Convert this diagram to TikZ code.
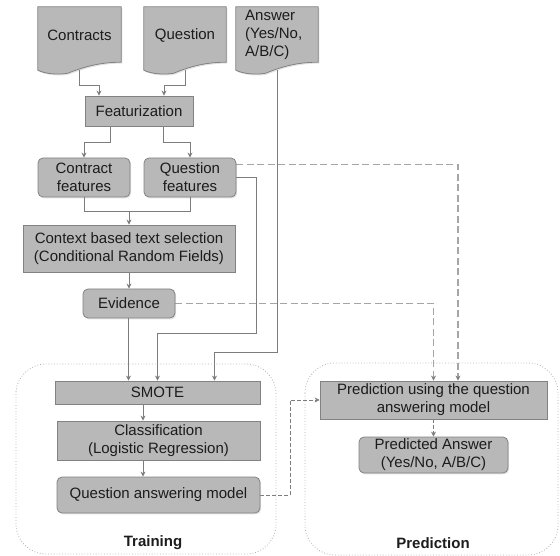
\documentclass[tikz,border=0pt]{standalone}
\usepackage{fontspec}
\setmainfont{Liberation Sans}
\usetikzlibrary{arrows.meta,shadows,calc}
\pgfdeclarelayer{background}
\pgfsetlayers{background,main}
\definecolor{boxfill}{RGB}{184,184,184}
\definecolor{boxline}{RGB}{130,130,130}
\definecolor{txt}{RGB}{28,28,28}
\definecolor{conn}{RGB}{125,125,125}
\definecolor{dconn}{RGB}{165,165,165}
\definecolor{frame}{RGB}{175,175,175}
\newcommand\docshape[1]{%
  \draw[docdraw] (#1.north west) -- (#1.north east) -- ([yshift=8pt]#1.south east)
    .. controls ([xshift=-22pt,yshift=8pt]#1.south east) and ([xshift=-38pt,yshift=3pt]#1.south east) .. ([xshift=30pt,yshift=-3pt]#1.south west)
    .. controls ([xshift=20pt,yshift=-5pt]#1.south west) and ([xshift=7pt,yshift=-3.5pt]#1.south west) .. (#1.south west) -- cycle;}
\begin{document}
\begin{tikzpicture}[x=1pt,y=-1pt,
  font=\fontsize{15}{18}\selectfont, text=txt,
  box/.style={rectangle, fill=boxfill, draw=boxline, line width=0.8pt, align=center, inner sep=0pt,
    drop shadow={opacity=0.22, shadow xshift=1.2pt, shadow yshift=-1.4pt}},
  rbox/.style={box, rounded corners=5pt},
  docnode/.style={rectangle, inner sep=0pt, align=center},
  docdraw/.style={fill=boxfill, draw=boxline, line width=0.8pt,
    drop shadow={opacity=0.22, shadow xshift=1.2pt, shadow yshift=-1.4pt}},
  arr/.style={draw=conn, line width=0.8pt, -{Stealth[length=5pt,width=5pt]}},
  ln/.style={draw=conn, line width=0.8pt},
  dsh/.style={draw=dconn, line width=1.3pt, dash pattern=on 7pt off 3.5pt, -{Stealth[length=5pt,width=5pt,color=conn]}},
  dshthin/.style={draw=conn, line width=0.7pt, dash pattern=on 4pt off 2pt, -{Stealth[length=5pt,width=5pt]}},
  container/.style={draw=frame, line width=0.8pt, dotted, rounded corners=30pt},
  lbl/.style={font=\fontsize{15}{18}\selectfont\bfseries}
]
\useasboundingbox (0,0) rectangle (560,556);

% containers
\draw[container] (16,364) rectangle (276,554);
\draw[container] (305,363) rectangle (558,555);
\node[lbl] (trainlbl) at (153,543) {Training};
\node[lbl] (predlbl) at (433,543) {Prediction};

% documents
\node[docnode, minimum width=83pt, minimum height=63pt] (contracts) at (79.5,38.5) {};
\node[docnode, minimum width=82pt, minimum height=63pt] (question) at (185,38.5) {};
\node[docnode, minimum width=82pt, minimum height=63pt] (answer) at (277,38.5) {};
\docshape{contracts}
\docshape{question}
\docshape{answer}
\node at (contracts.center) [yshift=3pt] {Contracts};
\node at (question.center) [yshift=3pt] {Question};
\node[anchor=north west, align=left, inner sep=0pt] at (245,10) {Answer\\(Yes/No,\\A/B/C)};

% boxes
\node[box, minimum width=108pt, minimum height=30pt] (feat) at (139,111) {Featurization};
\node[rbox, minimum width=92pt, minimum height=39pt] (cf) at (84,177.5) {Contract\\features};
\node[rbox, minimum width=92pt, minimum height=39pt] (qf) at (190,177.5) {Question\\features};
\node[box, minimum width=212pt, minimum height=47pt] (ctx) at (129,248.5) {Context based text selection\\(Conditional Random Fields)};
\node[rbox, minimum width=92pt, minimum height=29pt] (ev) at (129,303.5) {Evidence};
\node[box, minimum width=205pt, minimum height=23pt] (smote) at (157.5,392.5) {SMOTE};
\node[box, minimum width=203pt, minimum height=39pt] (cls) at (158.5,440.5) {Classification\\(Logistic Regression)};
\node[rbox, minimum width=203pt, minimum height=36pt] (qam) at (158.5,495) {Question answering model};
\node[box, minimum width=227pt, minimum height=38pt] (pred) at (433.5,400) {Prediction using the question\\answering model};
\node[rbox, minimum width=149pt, minimum height=36pt] (pa) at (433.5,455) {Predicted Answer\\(Yes/No, A/B/C)};

% connectors
\begin{pgfonlayer}{background}
\draw[arr] (contracts.south) -- ++(0,15) -| ([xshift=-40pt]feat.north);
\draw[arr] (question.south) -- ++(0,15) -| ([xshift=25pt]feat.north);
\draw[arr] ([xshift=-29pt]feat.south) -- ++(0,16) -| (cf.north);
\draw[arr] ([xshift=24pt]feat.south) -- ++(0,16) -| (qf.north);
\path (cf.south) ++(0,14) coordinate (m1);
\draw[ln] (cf.south) -- (m1) -| (qf.south);
\draw[arr] (m1 -| ctx.north) -- (ctx.north);
\draw[arr] (ctx.south) -- (ev.north);
\draw[arr] ([xshift=-0.5pt]ev.south) -- ([xshift=-0.5pt]ev.south |- smote.north);
\coordinate (b1) at (256,333);
\draw[arr] (qf.east) -| (b1) -| (smote.north);
\coordinate (b2) at (277,352);
\draw[arr] (answer.south) -- (b2) -| ([xshift=57pt]smote.north);
\draw[arr] ([xshift=-14.5pt]smote.south) -- ([xshift=-14.5pt]smote.south |- cls.north);
\draw[arr] ([xshift=-15.5pt]cls.south) -- ([xshift=-15.5pt]cls.south |- qam.north);
\draw[dsh] ([yshift=13pt]qf.east) -| ([xshift=24.5pt]pred.north);
\draw[dsh] (ev.east) -| (pred.north);
\coordinate (b3) at (290,495);
\draw[dshthin] (qam.east) -- (b3) |- (pred.west);
\draw[dshthin] (pred.south) -- (pa.north);
\end{pgfonlayer}
\end{tikzpicture}
\end{document}
